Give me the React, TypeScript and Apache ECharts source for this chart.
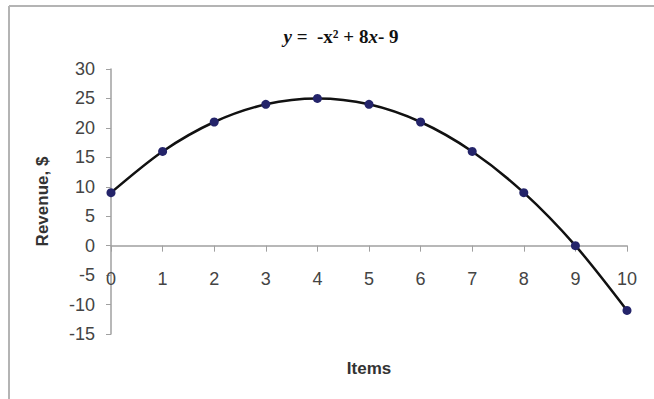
import React, { useEffect, useRef } from "react";
import * as echarts from "echarts";

const items: number[] = [0, 1, 2, 3, 4, 5, 6, 7, 8, 9, 10];
const revenue: number[] = [9, 16, 21, 24, 25, 24, 21, 16, 9, 0, -11];
const yTicks = { min: -15, max: 30, interval: 5 };
const xTicks = { min: 0, max: 10, interval: 1 };

export default function App() {
  const ref = useRef<HTMLDivElement>(null);
  useEffect(() => {
    if (!ref.current) return;
    const chart = echarts.init(ref.current, undefined, { renderer: "svg" });
    const data = items.map((x, i) => [x, revenue[i]]);
    chart.setOption({
      animation: false,
      backgroundColor: "#ffffff",
      title: {
        text: "{i|y} =  -x² + 8{i|x}- 9",
        left: 336,
        top: 22,
        textAlign: "center",
        textStyle: {
          fontFamily: "Liberation Serif",
          fontWeight: "bold",
          fontSize: 19,
          color: "#111",
          rich: {
            i: {
              fontFamily: "Liberation Serif",
              fontWeight: "bold",
              fontStyle: "italic",
              fontSize: 19,
              color: "#111",
            },
          },
        },
      },
      graphic: [
        {
          type: "line",
          shape: { x1: 9, y1: 6, x2: 654, y2: 6 },
          style: { stroke: "#b4b4b4", lineWidth: 2 },
        },
        {
          type: "line",
          shape: { x1: 9, y1: 6, x2: 9, y2: 399 },
          style: { stroke: "#b4b4b4", lineWidth: 2 },
        },
      ],
      grid: {
        left: 111,
        right: 27,
        top: 69,
        bottom: 65,
        containLabel: false,
        outerBoundsMode: "none",
      },
      xAxis: {
        type: "value",
        min: xTicks.min,
        max: xTicks.max,
        interval: xTicks.interval,
        name: "Items",
        nameLocation: "middle",
        nameGap: 26,
        nameTextStyle: {
          fontFamily: "Liberation Sans",
          fontWeight: "bold",
          fontSize: 17,
          color: "#333",
        },
        axisLine: { onZero: true, lineStyle: { color: "#a0a0a0", width: 1.5 } },
        axisTick: { show: true, inside: false, length: 6, lineStyle: { color: "#a0a0a0" } },
        axisLabel: {
          margin: -64,
          fontFamily: "Liberation Sans",
          fontSize: 18,
          color: "#444",
        },
        splitLine: { show: false },
      },
      yAxis: {
        type: "value",
        min: yTicks.min,
        max: yTicks.max,
        interval: yTicks.interval,
        name: "Revenue, $",
        nameLocation: "middle",
        nameGap: 60,
        nameTextStyle: {
          fontFamily: "Liberation Sans",
          fontWeight: "bold",
          fontSize: 17,
          color: "#333",
        },
        axisLine: { show: true, lineStyle: { color: "#a0a0a0", width: 1.5 } },
        axisTick: { show: true, length: 5, lineStyle: { color: "#a0a0a0" } },
        axisLabel: {
          margin: 16,
          fontFamily: "Liberation Sans",
          fontSize: 18,
          color: "#444",
        },
        splitLine: { show: false },
      },
      series: [
        {
          type: "line",
          data,
          smooth: 0.3,
          symbol: "circle",
          symbolSize: 9,
          lineStyle: { color: "#111", width: 2.5 },
          itemStyle: { color: "#24246a" },
        },
      ],
    });
    return () => chart.dispose();
  }, []);
  return (
    <div
      ref={ref}
      style={{ position: "fixed", left: 0, top: 0, width: 654, height: 399 }}
    />
  );
}
